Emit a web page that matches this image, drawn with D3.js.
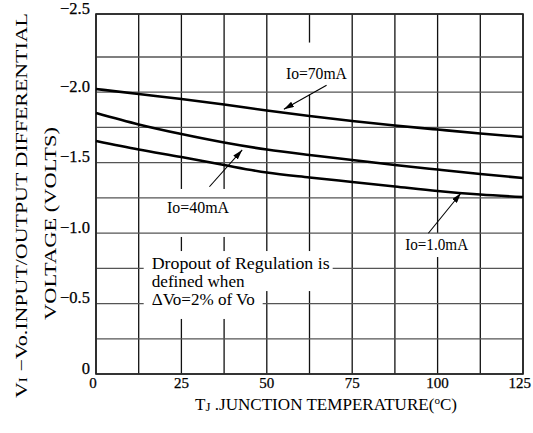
<!DOCTYPE html>
<html><head><meta charset="utf-8">
<script src="https://cdn.jsdelivr.net/npm/d3@7"></script>
<style>
html,body{margin:0;padding:0;background:#fff;}
svg{display:block;}
</style></head>
<body>
<svg id="chart" width="533" height="433" font-family="'Liberation Serif', 'DejaVu Serif', 'Times New Roman', serif"></svg>
<script>
// ---- data ----
const temps = [0, 12.5, 25, 37.5, 50, 62.5, 75, 87.5, 100, 112.5, 125];
const io70 = [-2.023, -1.987, -1.952, -1.913, -1.870, -1.831, -1.796, -1.764, -1.735, -1.707, -1.682];
const io40 = [-1.852, -1.771, -1.703, -1.643, -1.593, -1.554, -1.519, -1.483, -1.451, -1.420, -1.391];
const io1  = [-1.654, -1.593, -1.540, -1.483, -1.430, -1.395, -1.363, -1.331, -1.299, -1.274, -1.256];
const xTicks = [0, 25, 50, 75, 100, 125];
const xTickLabels = ["0", "25", "50", "75", "100", "125"];
const yTicks = [0, -0.5, -1.0, -1.5, -2.0, -2.5];
const yTickLabels = ["0", "−0.5", "−1.0", "−1.5", "−2.0", "−2.5"];
const xGrid = [0, 12.5, 25, 37.5, 50, 62.5, 75, 87.5, 100, 112.5, 125];
const yGrid = [0, -0.25, -0.5, -0.75, -1.0, -1.25, -1.5, -1.75, -2.0, -2.25, -2.5];
const seriesLabels = ["Io=70mA", "Io=40mA", "Io=1.0mA"];
const labelPos = [[55.6, -2.097], [20.8, -1.143], [90.5, -0.880]];
const arrowFrom = [[67.5, -2.05], [33.2, -1.329], [97.3, -0.999]];
const arrowTo = [[55.0, -1.879], [42.8, -1.590], [106.8, -1.283]];
const noteLines = ["Dropout of Regulation is", "defined when", "ΔVo=2% of Vo"];
const notePos = [[16.3, -0.745], [16.3, -0.617], [16.3, -0.490]];

const FONT = "'Liberation Serif', 'DejaVu Serif', 'Times New Roman', serif";

// ---- scales ----
const x = d3.scaleLinear().domain([0, 125]).range([96, 523]);
const y = d3.scaleLinear().domain([0, -2.25, -2.5]).range([374, 57, 14]);

const svg = d3.select("#chart");
const defs = svg.append("defs");
defs.append("marker").attr("id", "arr").attr("viewBox", "0 0 10 6")
  .attr("refX", 10).attr("refY", 3).attr("markerUnits", "userSpaceOnUse")
  .attr("markerWidth", 10).attr("markerHeight", 6).attr("orient", "auto")
  .append("path").attr("d", "M0,0L10,3L0,6Z").attr("fill", "#000");

// vertical grid
svg.append("g").selectAll("line").data(xGrid).join("line")
  .attr("x1", d => x(d)).attr("x2", d => x(d))
  .attr("y1", y(-2.5)).attr("y2", y(0))
  .attr("stroke", "#111").attr("stroke-width", 1.3);

// series labels with masks
const maskG1 = svg.append("g");
const labG = svg.append("g");
const labs = seriesLabels.map((s, i) => labG.append("text")
  .attr("font-family", FONT)
  .attr("x", x(labelPos[i][0])).attr("y", y(labelPos[i][1]))
  .attr("font-size", 16.5).attr("textLength", [61, 62, 63][i]).attr("lengthAdjust", "spacingAndGlyphs")
  .text(s));
labs.forEach((t, i) => {
  const b = t.node().getBBox();
  const pads = [[4, 21, 12], [4, 9, 20], [3, 2, 3]][i];
  maskG1.append("rect").attr("x", b.x - pads[0]).attr("y", b.y - pads[1])
    .attr("width", b.width + 2 * pads[0]).attr("height", b.height + pads[1] + pads[2])
    .attr("fill", "#fff");
});

// horizontal grid
const hG = svg.append("g");
hG.selectAll("line").data(yGrid).join("line")
  .attr("x1", x(0)).attr("x2", x(125))
  .attr("y1", d => y(d)).attr("y2", d => y(d))
  .attr("stroke", "#555").attr("stroke-width", 1.3);

// note text with masks
const maskG2 = svg.append("g");
const noteG = svg.append("g");
const noteW = [178, 93, 103];
const notes = noteLines.map((s, i) => noteG.append("text")
  .attr("font-family", FONT)
  .attr("x", x(notePos[i][0])).attr("y", y(notePos[i][1]))
  .attr("font-size", 16.5).attr("textLength", noteW[i]).attr("lengthAdjust", "spacingAndGlyphs")
  .text(s));
const b0 = notes[0].node().getBBox(), b1 = notes[1].node().getBBox(), b2 = notes[2].node().getBBox();
maskG2.append("rect").attr("x", b0.x - 8).attr("y", b0.y - 3)
  .attr("width", b0.width + 11).attr("height", b1.y + b1.height - b0.y + 3).attr("fill", "#fff");
maskG2.append("rect").attr("x", b2.x - 8).attr("y", b1.y + b1.height - 2)
  .attr("width", b2.width + 16).attr("height", b2.y + b2.height - b1.y - b1.height + 12).attr("fill", "#fff");
svg.node().appendChild(noteG.node());

// frame
svg.append("rect").attr("x", x(0)).attr("y", y(-2.5))
  .attr("width", x(125) - x(0)).attr("height", y(0) - y(-2.5))
  .attr("fill", "none").attr("stroke", "#222").attr("stroke-width", 1.6);

// curves
const line = d3.line().x((d, i) => x(temps[i])).y(d => y(d)).curve(d3.curveMonotoneX);
[io70, io40, io1].forEach(s => {
  svg.append("path").attr("d", line(s)).attr("fill", "none")
    .attr("stroke", "#000").attr("stroke-width", 2.6);
});

// arrows
arrowFrom.forEach((f, i) => {
  svg.append("line").attr("x1", x(f[0])).attr("y1", y(f[1]))
    .attr("x2", x(arrowTo[i][0])).attr("y2", y(arrowTo[i][1]))
    .attr("stroke", "#000").attr("stroke-width", 1.1).attr("marker-end", "url(#arr)");
});
svg.node().appendChild(labG.node());

// tick labels
svg.append("g").selectAll("text").data(yTicks).join("text")
  .attr("font-family", FONT)
  .attr("x", 90).attr("y", d => y(d) - 4).attr("text-anchor", "end")
  .attr("dominant-baseline", "middle").attr("font-size", 16.5)
  .attr("stroke", "#000").attr("stroke-width", 0.25)
  .text((d, i) => yTickLabels[i]);
svg.append("g").selectAll("text").data(xTicks).join("text")
  .attr("font-family", FONT)
  .attr("x", d => d === 125 ? 531 : x(d) - (d === 0 ? 3 : 0)).attr("y", 388)
  .attr("text-anchor", d => d === 125 ? "end" : "middle")
  .attr("font-size", 15).attr("stroke", "#000").attr("stroke-width", 0.25)
  .text((d, i) => xTickLabels[i]);

// axis titles
const xt = svg.append("text").attr("font-family", FONT).attr("x", 195).attr("y", 410).attr("font-size", 17)
  .attr("textLength", 262).attr("lengthAdjust", "spacingAndGlyphs");
xt.append("tspan").text("T");
xt.append("tspan").attr("font-size", 13).attr("dy", 1).text("J");
xt.append("tspan").attr("dy", -1).text(" .JUNCTION  TEMPERATURE(");
xt.append("tspan").attr("font-size", 11).attr("dy", -6).text("o");
xt.append("tspan").attr("dy", 6).text("C)");

const yt1 = svg.append("text").attr("font-family", FONT).attr("transform", "translate(27,398) rotate(-90)")
  .attr("font-size", 17).attr("textLength", 385).attr("lengthAdjust", "spacingAndGlyphs");
yt1.append("tspan").text("V");
yt1.append("tspan").attr("font-size", 12).text("I");
yt1.append("tspan").text(" −Vo.INPUT/OUTPUT  DIFFERENTIAL");
svg.append("text").attr("font-family", FONT).attr("transform", "translate(56,320) rotate(-90)")
  .attr("font-size", 17).attr("textLength", 193).attr("lengthAdjust", "spacingAndGlyphs")
  .text("VOLTAGE  (VOLTS)");
</script>
</body></html>
